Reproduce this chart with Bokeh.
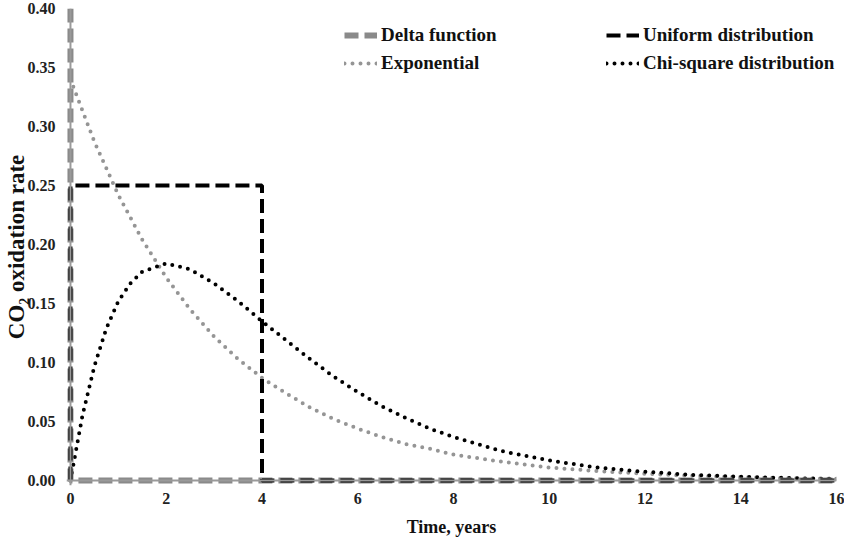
from bokeh.plotting import figure
from bokeh.models import Range1d, Legend, LegendItem, FixedTicker, Span
from bokeh.embed import file_html
from bokeh.resources import INLINE

# ---- data ----
delta_x = [0, 0, 16]
delta_y = [0.40, 0.0, 0.0]

uniform_x = [0, 0, 4, 4, 16]
uniform_y = [0.0, 0.25, 0.25, 0.0, 0.0]

exp_x = [0, 0.5, 1, 1.5, 2, 2.5, 3, 3.5, 4, 4.5, 5, 5.5, 6, 6.5, 7, 7.5, 8, 8.5,
         9, 9.5, 10, 11, 12, 13, 14, 15, 16]
exp_y = [0.340, 0.287, 0.242, 0.204, 0.172, 0.145, 0.122, 0.103, 0.087, 0.074,
         0.062, 0.052, 0.044, 0.037, 0.031, 0.027, 0.022, 0.019, 0.016, 0.0135,
         0.011, 0.008, 0.0057, 0.004, 0.0029, 0.002, 0.0015]

chi_x = [0, 0.25, 0.5, 0.75, 1, 1.25, 1.5, 2, 2.5, 3, 3.5, 4, 4.5, 5, 5.5, 6,
         6.5, 7, 7.5, 8, 9, 10, 11, 12, 13, 14, 15, 16]
chi_y = [0.0, 0.055, 0.097, 0.129, 0.152, 0.167, 0.177, 0.184, 0.179, 0.167,
         0.152, 0.135, 0.119, 0.103, 0.088, 0.075, 0.063, 0.053, 0.044, 0.037,
         0.025, 0.017, 0.011, 0.0074, 0.0048, 0.0032, 0.0021, 0.0013]

x_ticks = [0, 2, 4, 6, 8, 10, 12, 14, 16]
y_ticks = [0.0, 0.05, 0.10, 0.15, 0.20, 0.25, 0.30, 0.35, 0.40]

FONT = "Liberation Serif"

p = figure(width=844, height=541, output_backend="svg", toolbar_location=None,
           x_range=Range1d(-0.083, 16), y_range=Range1d(-0.0042, 0.40),
           min_border_left=59, min_border_right=8, min_border_top=8,
           min_border_bottom=56)
p.outline_line_color = None
p.grid.visible = False
p.background_fill_color = "white"
p.border_fill_color = "white"

gray = "#8a8a8a"
p.add_layout(Span(location=0, dimension="width", line_color="#9a9a9a", line_width=2))
p.add_layout(Span(location=0, dimension="height", line_color="#9a9a9a", line_width=2))

r_exp = p.line(exp_x, exp_y, line_color="#959595", line_width=4, line_dash="0 8",
               line_cap="round")
r_chi = p.line(chi_x, chi_y, line_color="black", line_width=4, line_dash="0 8",
               line_cap="round")
r_delta = p.line(delta_x, delta_y, line_color=gray, line_width=6,
                 line_dash="14 6")
r_uni = p.line(uniform_x, uniform_y, line_color="black", line_width=4,
               line_dash="14 6")

for ax in (p.xaxis[0], p.yaxis[0]):
    ax.major_tick_line_color = None
    ax.minor_tick_line_color = None
    ax.axis_line_color = None
    ax.major_label_text_font = FONT
    ax.major_label_text_font_style = "bold"
    ax.major_label_text_font_size = "16px"
    ax.major_label_text_color = "#222222"
    ax.axis_label_text_font = FONT
    ax.axis_label_text_font_style = "bold"
    ax.axis_label_text_color = "#111111"

p.xaxis.ticker = FixedTicker(ticks=x_ticks)
p.yaxis.ticker = FixedTicker(ticks=y_ticks)
p.xaxis.major_label_overrides = {t: str(t) for t in x_ticks}
p.yaxis.major_label_overrides = {t: "%.2f" % t for t in y_ticks}
p.xaxis.major_label_standoff = 1
p.yaxis.major_label_standoff = 5
p.xaxis.axis_label = "Time, years"
p.yaxis.axis_label = "CO\u2082 oxidation rate"
p.xaxis.axis_label_text_font_size = "18px"
p.yaxis.axis_label_text_font_size = "23px"
p.xaxis.axis_label_standoff = 10
p.yaxis.axis_label_standoff = -4

def mk_legend(items, x, y):
    lg = Legend(items=items, location=(x, y), border_line_color=None,
                background_fill_alpha=0, label_text_font=FONT,
                label_text_font_style="bold", label_text_font_size="19px",
                label_text_color="#111111", glyph_width=33, glyph_height=14,
                spacing=6, padding=0, margin=0, label_standoff=4)
    p.add_layout(lg, "center")

mk_legend([LegendItem(label="Delta function", renderers=[r_delta]),
           LegendItem(label="Exponential", renderers=[r_exp])], 278, 411)
mk_legend([LegendItem(label="Uniform distribution", renderers=[r_uni]),
           LegendItem(label="Chi-square distribution", renderers=[r_chi])], 540, 411)

open("out.html", "w").write(file_html(p, INLINE))
